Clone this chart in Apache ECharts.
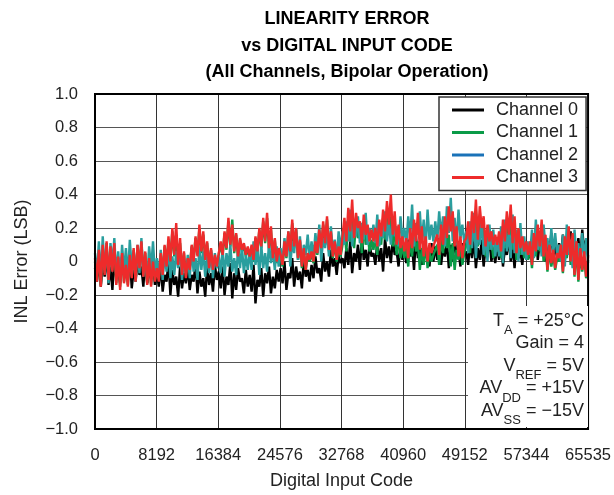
<!DOCTYPE html>
<html>
<head>
<meta charset="utf-8">
<script src="https://cdn.jsdelivr.net/npm/echarts@6/dist/echarts.min.js"></script>
<style>html,body{margin:0;padding:0;background:#fff}#c{width:614px;height:495px}</style>
</head>
<body>
<div id="c"></div>
<script>
// ---- data (INL error in LSB, 256 samples per channel) ----
const seriesNames = ['Channel 0', 'Channel 1', 'Channel 2', 'Channel 3'];
const xTickLabels = ['0','8192','16384','24576','32768','40960','49152','57344','65535'];
const annotationLines = ['T_A = +25°C', 'Gain = 4', 'V_REF = 5V', 'AV_DD = +15V', 'AV_SS = −15V'];

const ch0 = [
-0.04,-0.12,0.02,-0.15,-0.01,-0.09,0.05,-0.14,-0.03,-0.17,0.01,-0.10,-0.06,-0.13,0.03,-0.08,
-0.02,-0.11,0.04,-0.16,-0.05,-0.12,0.01,-0.08,-0.03,-0.15,0.02,-0.13,-0.06,-0.10,0.00,-0.14,
-0.06,-0.15,-0.02,-0.18,-0.08,-0.12,0.00,-0.20,-0.05,-0.14,-0.09,-0.21,-0.03,-0.16,-0.07,-0.13,
-0.04,-0.17,-0.08,-0.12,-0.01,-0.19,-0.06,-0.15,-0.10,-0.21,-0.03,-0.14,-0.07,-0.18,-0.02,-0.11,
-0.06,-0.16,-0.03,-0.20,-0.09,-0.14,-0.01,-0.22,-0.07,-0.17,-0.04,-0.12,-0.10,-0.19,-0.05,-0.15,
-0.08,-0.18,-0.02,-0.25,-0.11,-0.15,-0.04,-0.21,-0.07,-0.13,-0.03,-0.19,-0.09,-0.16,-0.05,-0.12,
-0.04,-0.13,0.00,-0.17,-0.07,-0.10,0.02,-0.15,-0.03,-0.11,-0.06,-0.16,0.01,-0.09,-0.05,-0.12,
-0.02,-0.10,0.03,-0.07,-0.04,-0.12,0.05,-0.06,0.00,-0.09,0.07,-0.03,0.02,-0.08,0.04,-0.01,
0.02,-0.04,0.08,-0.02,0.12,-0.07,0.05,0.00,0.10,-0.05,0.15,0.01,0.07,-0.03,0.11,0.03,
0.05,-0.02,0.12,0.00,0.08,-0.06,0.14,0.02,0.09,-0.01,0.13,0.04,0.06,-0.03,0.11,0.01,
0.07,-0.01,0.13,0.03,0.09,-0.05,0.15,0.02,0.10,-0.02,0.12,0.04,0.06,-0.03,0.11,0.00,
0.09,0.01,0.14,-0.02,0.08,0.03,0.12,-0.04,0.10,0.00,0.15,0.02,0.07,-0.03,0.11,0.04,
0.06,-0.02,0.11,0.02,0.14,-0.04,0.08,0.01,0.13,-0.03,0.09,0.03,0.15,0.00,0.07,-0.01,
0.10,0.01,0.13,-0.03,0.08,0.04,0.15,0.00,0.09,-0.04,0.12,0.02,0.06,-0.02,0.11,0.03,
0.08,0.02,0.13,0.04,0.20,0.01,0.11,0.06,0.15,0.00,0.12,0.05,0.17,0.03,0.09,0.02,
0.11,0.03,0.16,0.01,0.12,0.05,0.18,0.02,0.10,0.04,0.14,0.00,0.19,0.06,0.13,0.03
];
const ch1 = [
0.00,-0.11,0.06,-0.14,0.09,-0.07,0.11,-0.10,0.07,-0.05,0.10,-0.13,0.02,-0.15,0.04,-0.12,
-0.03,-0.14,0.03,-0.09,0.07,-0.11,0.09,-0.03,0.11,-0.08,0.05,-0.13,0.01,-0.14,-0.01,-0.11,
-0.03,-0.10,0.04,-0.07,0.09,-0.02,0.13,0.01,0.18,0.03,0.16,-0.01,0.11,-0.06,0.05,-0.09,
0.01,-0.04,0.09,0.01,0.14,0.04,0.20,0.05,0.16,0.02,0.11,-0.03,0.07,-0.04,0.03,-0.02,
0.04,0.11,0.03,0.17,0.07,0.24,0.09,0.25,0.05,0.16,0.02,0.13,0.06,0.10,0.03,0.08,
0.02,0.09,0.00,0.14,0.05,0.19,0.08,0.24,0.11,0.26,0.07,0.19,0.01,0.13,-0.01,0.07,
0.03,-0.03,0.11,0.02,0.17,0.05,0.23,0.08,0.19,0.01,0.12,-0.04,0.07,-0.05,0.04,0.00,
0.05,-0.01,0.11,0.04,0.18,0.07,0.22,0.10,0.25,0.06,0.17,0.02,0.11,0.00,0.08,0.03,
0.10,0.20,0.06,0.26,0.12,0.30,0.08,0.23,0.14,0.18,0.05,0.22,0.10,0.16,0.06,0.13,
0.07,0.15,0.04,0.20,0.10,0.26,0.13,0.30,0.16,0.27,0.09,0.21,0.04,0.15,0.02,0.10,
0.02,0.09,-0.03,0.14,0.03,0.19,0.06,0.12,-0.05,0.08,-0.02,0.11,-0.04,0.06,0.00,0.04,
0.03,0.10,-0.02,0.15,0.05,0.20,0.08,0.16,-0.03,0.11,-0.05,0.07,0.01,0.09,-0.02,0.05,
0.10,0.18,0.05,0.24,0.12,0.30,0.09,0.26,0.14,0.21,0.03,0.17,0.07,0.13,0.02,0.11,
0.06,0.13,0.02,0.19,0.08,0.24,0.11,0.28,0.07,0.21,0.01,0.15,0.04,0.10,0.02,0.08,
0.01,0.09,-0.04,0.14,0.03,0.19,0.06,0.20,0.00,0.12,-0.06,0.07,-0.03,0.04,-0.05,0.02,
0.00,0.07,-0.07,0.12,0.02,0.17,-0.02,0.14,-0.09,0.09,-0.12,0.05,-0.06,0.03,-0.10,0.01
];
const ch2 = [
0.05,-0.08,0.12,-0.11,0.15,-0.05,0.09,-0.13,0.11,-0.02,0.14,-0.09,0.06,-0.12,0.10,-0.06,
0.08,-0.10,0.13,-0.04,0.06,-0.12,0.10,-0.07,0.14,-0.09,0.03,-0.11,0.09,-0.05,0.12,-0.08,
0.02,-0.09,0.07,-0.11,0.05,-0.06,0.09,-0.10,0.03,-0.08,0.06,-0.04,0.08,-0.11,0.01,-0.07,
0.04,-0.10,0.08,-0.06,0.02,-0.11,0.09,-0.05,0.06,-0.09,0.03,-0.07,0.07,-0.10,0.05,-0.04,
0.03,-0.07,0.08,-0.09,0.05,-0.03,0.10,-0.06,0.02,-0.08,0.07,-0.04,0.09,-0.07,0.04,-0.05,
0.06,-0.05,0.12,-0.02,0.08,-0.08,0.10,-0.04,0.05,-0.06,0.11,-0.01,0.07,-0.05,0.09,-0.03,
0.08,-0.01,0.14,0.03,0.18,-0.03,0.12,0.05,0.20,0.01,0.15,-0.02,0.10,0.04,0.16,0.02,
0.12,0.02,0.17,0.05,0.22,0.00,0.14,0.08,0.19,0.03,0.21,0.06,0.13,0.01,0.18,0.07,
0.18,0.10,0.24,0.12,0.31,0.09,0.21,0.15,0.27,0.11,0.23,0.13,0.29,0.10,0.20,0.14,
0.22,0.11,0.28,0.09,0.19,0.14,0.30,0.12,0.24,0.10,0.26,0.15,0.21,0.09,0.27,0.13,
0.20,0.10,0.27,0.14,0.34,0.09,0.23,0.16,0.30,0.11,0.25,0.08,0.31,0.13,0.22,0.12,
0.24,0.12,0.30,0.15,0.27,0.09,0.33,0.17,0.38,0.12,0.26,0.10,0.31,0.14,0.22,0.11,
0.18,0.05,0.24,0.08,0.29,0.02,0.20,0.10,0.26,0.04,0.16,0.00,0.22,0.07,0.19,0.03,
0.14,0.03,0.21,-0.01,0.25,0.06,0.17,0.02,0.28,0.05,0.19,0.00,0.23,0.04,0.15,0.01,
0.12,0.04,0.19,0.02,0.25,0.07,0.16,0.03,0.22,0.09,0.14,0.02,0.20,0.05,0.17,0.04,
0.10,0.00,0.16,-0.03,0.22,0.04,0.13,-0.04,0.19,0.02,0.11,-0.02,0.17,0.01,0.14,-0.01
];
const ch3 = [
0.02,-0.12,0.07,-0.15,0.10,-0.08,0.12,-0.11,0.09,-0.06,0.11,-0.14,0.03,-0.17,0.05,-0.13,
-0.02,-0.15,0.04,-0.10,0.08,-0.12,0.10,-0.04,0.12,-0.09,0.06,-0.14,0.02,-0.15,0.00,-0.12,
-0.04,-0.12,0.05,-0.08,0.10,-0.03,0.15,0.00,0.20,0.04,0.23,-0.02,0.14,-0.08,0.06,-0.10,
0.02,-0.05,0.10,0.00,0.15,0.03,0.22,0.06,0.18,0.01,0.12,-0.04,0.08,-0.05,0.04,-0.03,
0.05,0.12,0.04,0.18,0.08,0.26,0.10,0.22,0.06,0.17,0.03,0.14,0.07,0.11,0.04,0.09,
0.03,0.10,0.01,0.15,0.06,0.20,0.09,0.26,0.12,0.29,0.08,0.21,0.02,0.14,0.00,0.08,
0.04,-0.02,0.12,0.03,0.18,0.06,0.25,0.09,0.20,0.02,0.13,-0.03,0.08,-0.05,0.05,0.01,
0.06,0.00,0.12,0.05,0.19,0.08,0.24,0.11,0.27,0.07,0.18,0.03,0.12,0.01,0.09,0.04,
0.15,0.26,0.12,0.32,0.18,0.37,0.14,0.29,0.20,0.24,0.11,0.28,0.16,0.22,0.12,0.19,
0.12,0.20,0.09,0.25,0.15,0.31,0.18,0.36,0.22,0.40,0.16,0.30,0.10,0.22,0.08,0.15,
0.06,0.14,0.02,0.20,0.08,0.25,0.12,0.29,0.07,0.21,0.03,0.15,0.00,0.11,0.05,0.09,
0.08,0.16,0.04,0.22,0.10,0.27,0.14,0.33,0.18,0.30,0.09,0.21,0.03,0.15,0.02,0.12,
0.14,0.24,0.10,0.30,0.17,0.37,0.13,0.33,0.20,0.27,0.09,0.22,0.12,0.18,0.10,0.16,
0.10,0.18,0.06,0.25,0.12,0.30,0.16,0.34,0.11,0.27,0.05,0.20,0.08,0.15,0.06,0.12,
0.04,0.12,-0.02,0.17,0.06,0.22,0.09,0.25,0.03,0.16,-0.05,0.10,-0.01,0.07,-0.04,0.05,
0.02,0.10,-0.06,0.15,0.04,0.21,0.00,0.17,-0.08,0.12,-0.11,0.08,-0.05,0.06,-0.09,0.03
];
const channelData = [ch0, ch1, ch2, ch3];
const codeStep = 257; // sample spacing in codes (255 * 257 = 65535)

// ---- styling ----
const lineColors = ['#000000', '#0a9b48', '#2a9e9e', '#ee2b2b'];
const legendColors = ['#000000', '#0a9b48', '#1a72b8', '#ee2b2b'];
const FONT = '"Liberation Sans", Arial, Helvetica, sans-serif';

const chart = echarts.init(document.getElementById('c'), null, {renderer: 'canvas'});

const series = seriesNames.map((name, k) => ({
  name: name,
  type: 'line',
  symbol: 'none',
  showSymbol: false,
  animation: false,
  lineStyle: {color: lineColors[k], width: 2.4, join: 'miter', miterLimit: 2},
  itemStyle: {color: lineColors[k]},
  z: 2 + k,
  data: channelData[k].map((v, i) => [i * codeStep, v])
}));

function minus(s) { return s.replace('-', '\u2212'); }

function richLine(s) {
  const m = s.match(/^([A-Z]+)_([A-Z]+)(.*)$/);
  if (!m) return '{n|' + s + '}';
  return '{n|' + m[1] + '}{s|' + m[2] + '}{n|' + m[3] + '}';
}

const annTop = 311, annGap = 22.5, annRight = 584;
const graphics = [{
  type: 'rect', left: 468, top: 306, z: 50,
  shape: {width: 120, height: 121},
  style: {fill: '#ffffff'}
}];
annotationLines.forEach((s, i) => {
  graphics.push({
    type: 'text', z: 51,
    x: annRight, y: annTop + i * annGap,
    style: {
      text: richLine(s),
      align: 'right', verticalAlign: 'top',
      fill: '#222',
      rich: {
        n: {fontSize: 18, fontFamily: FONT, fill: '#222', lineHeight: 22, verticalAlign: 'bottom', padding: [0,0,3,0]},
        s: {fontSize: 13, fontFamily: FONT, fill: '#222', lineHeight: 22, verticalAlign: 'bottom', padding: [0,0,-4,0]}
      }
    }
  });
});

const option = {
  animation: false,
  backgroundColor: '#fff',
  title: {
    text: 'LINEARITY ERROR\nvs DIGITAL INPUT CODE\n(All Channels, Bipolar Operation)',
    left: 342, top: 1, textAlign: 'center',
    textStyle: {fontFamily: FONT, fontSize: 18, fontWeight: 'bold', color: '#000', lineHeight: 26.5}
  },
  grid: {left: 95, right: 24, top: 94, bottom: 66, show: true, borderColor: '#000', borderWidth: 2, backgroundColor: 'transparent', z: 10},
  legend: {
    orient: 'vertical', left: 439, top: 97,
    backgroundColor: '#fff', borderColor: '#333', borderWidth: 1.5,
    padding: [4, 8, 4, 13],
    icon: 'rect',
    itemWidth: 32, itemHeight: 3, itemGap: 4.5,
    textStyle: {fontFamily: FONT, fontSize: 18, color: '#222', lineHeight: 18, padding: [0, 0, 0, 7]},
    data: seriesNames.map((n, k) => ({name: n, itemStyle: {color: legendColors[k]}})),
    z: 40
  },
  xAxis: {
    type: 'value', min: 0, max: 65536, interval: 8192,
    name: 'Digital Input Code', nameLocation: 'middle', nameGap: 43,
    nameTextStyle: {fontFamily: FONT, fontSize: 18, color: '#222'},
    axisLine: {show: false}, axisTick: {show: false},
    axisLabel: {fontFamily: FONT, fontSize: 16.5, color: '#222', margin: 18,
      formatter: v => xTickLabels[Math.round(v / 8192)]},
    splitLine: {show: true, lineStyle: {color: '#333', width: 1}}
  },
  yAxis: {
    type: 'value', min: -1, max: 1, interval: 0.2,
    name: 'INL Error (LSB)', nameLocation: 'middle', nameGap: 64,
    nameTextStyle: {fontFamily: FONT, fontSize: 18, color: '#222'},
    axisLine: {show: false}, axisTick: {show: false},
    axisLabel: {fontFamily: FONT, fontSize: 16.5, color: '#222', margin: 17,
      formatter: v => Math.abs(v) < 1e-9 ? '0' : minus(v.toFixed(1))},
    splitLine: {show: true, lineStyle: {color: '#555', width: 1}}
  },
  series: series,
  graphic: graphics
};
chart.setOption(option);
</script>
</body>
</html>
